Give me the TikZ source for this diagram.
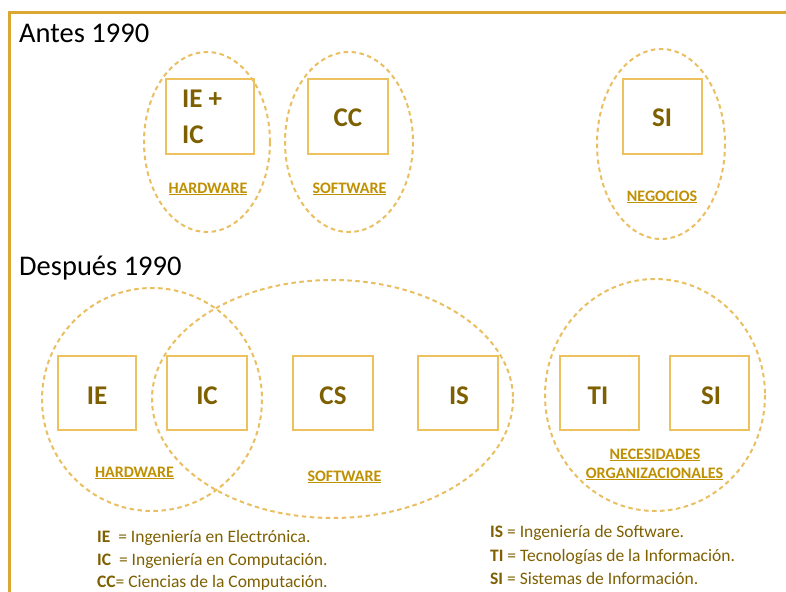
\documentclass[tikz,border=0pt]{standalone}
\usepackage{fontspec}
\setmainfont{Carlito}
\definecolor{frame}{HTML}{DAA832}
\definecolor{boxline}{HTML}{EDC25E}
\definecolor{ellline}{HTML}{E9BF62}
\definecolor{dark}{HTML}{7F6000}
\definecolor{lbl}{HTML}{BF9000}
\definecolor{shade}{HTML}{D0CCC4}
\begin{document}
\begin{tikzpicture}[x=1pt,y=-1pt,
  frameline/.style={draw=frame,line width=3pt},
  abox/.style={draw=boxline,line width=1.8pt},
  ell/.style={draw=ellline,line width=2pt,dash pattern=on 4.5pt off 3.5pt},
  boxtxt/.style={inner sep=0pt,anchor=base,text=dark,font=\fontsize{27}{30}\selectfont\bfseries},
  lab/.style={inner sep=0pt,anchor=base,text=lbl,font=\fontsize{16}{18}\selectfont\bfseries},
  head/.style={inner sep=0pt,anchor=base west,text=black,font=\fontsize{28.5}{32}\selectfont},
  leg/.style={inner sep=0pt,anchor=base west,text=dark,font=\fontsize{17.5}{20}\selectfont}]
\useasboundingbox (0,0) rectangle (786,591);
\fill[white] (0,0) rectangle (786,591);
% frame
\draw[frameline] (9.5,600) -- (9.5,13) -- (790,13);
% headings
\node[head] (h1) at (19,43) {Antes 1990};
\node[head] (h2) at (19,275) {Después 1990};
% top row
\draw[ell] (207,142) ellipse [x radius=63,y radius=90];
\draw[ell] (349,142) ellipse [x radius=64,y radius=90];
\draw[ell] (661,144) ellipse [x radius=64,y radius=95];
\draw[abox] (166,79) rectangle (254,154);
\draw[abox] (308,79) rectangle (388,154);
\draw[abox] (623,79) rectangle (702,154);
\node[boxtxt,anchor=base west] (ie1) at (182,108) {IE +};
\node[boxtxt,anchor=base west] (ic1) at (182,143) {IC};
\node[boxtxt] (cc1) at (348,126) {CC};
\node[boxtxt] (si1) at (662,126) {SI};
\node[lab] (hw1) at (208,193) {\underline{HARDWARE}};
\node[lab] (sw1) at (349.5,193) {\underline{SOFTWARE}};
\node[lab] (ng1) at (662,201) {\underline{NEGOCIOS}};
% bottom row
\draw[ell] (152,399.5) ellipse [x radius=110,y radius=111.5];
\draw[ell] (332.5,399) ellipse [x radius=180.5,y radius=119];
\draw[ell] (655,395) ellipse [x radius=110,y radius=116];
\draw[abox] (58,356) rectangle (136,430);
\draw[abox] (167,356) rectangle (247,430);
\draw[abox] (293,356) rectangle (373,430);
\draw[abox] (418,356) rectangle (498,430);
\draw[abox] (560,356) rectangle (639,430);
\draw[abox] (670,356) rectangle (749,430);
\node[boxtxt] (ie2) at (97,404) {IE};
\node[boxtxt] (ic2) at (207,404) {IC};
\node[boxtxt] (cs2) at (333,404) {CS};
\node[boxtxt] (is2) at (459,404) {IS};
\node[boxtxt] (ti2) at (598,404) {TI};
\node[boxtxt] (si2) at (711,404) {SI};
\node[lab] (hw2) at (134.5,477) {\underline{HARDWARE}};
\node[lab] (sw2) at (344.5,481) {\underline{SOFTWARE}};
\node[lab] (nc2) at (655,459) {\underline{NECESIDADES}};
\node[lab] (og2) at (654.5,478) {\underline{ORGANIZACIONALES}};
% legend
\node[leg] (l1) at (97,542) {\textbf{IE}\ \ = Ingeniería en Electrónica.};
\node[leg] (l2) at (97,565.5) {\textbf{IC}\ \ = Ingeniería en Computación.};
\node[leg] (l3) at (97,587) {\textbf{CC}= Ciencias de la Computación.};
\node[leg] (r1) at (490,537) {\textbf{IS} = Ingeniería de Software.};
\node[leg] (r2) at (490,561) {\textbf{TI} = Tecnologías de la Información.};
\node[leg] (r3) at (490,584) {\textbf{SI} = Sistemas de Información.};
\end{tikzpicture}
\end{document}
